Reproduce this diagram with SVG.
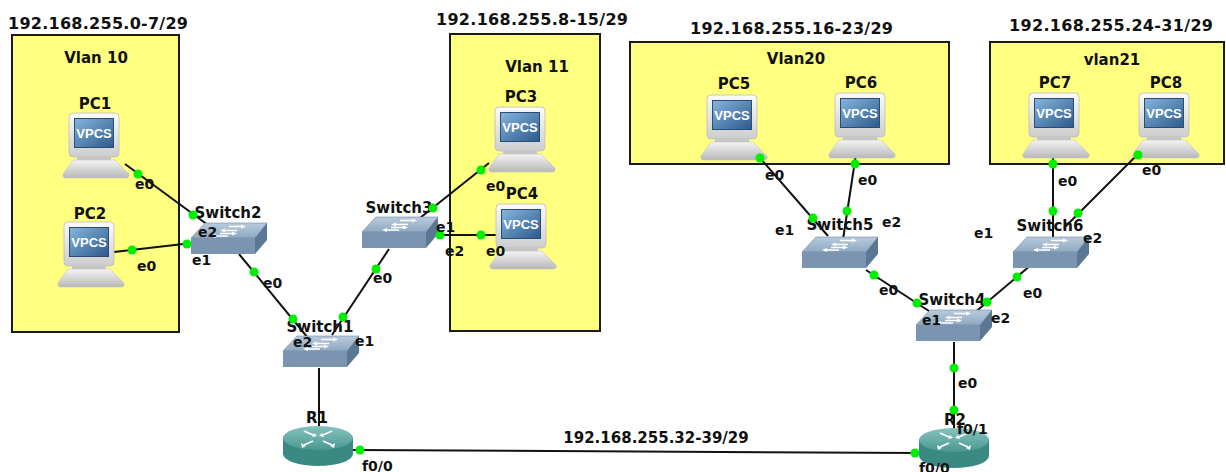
<svg xmlns="http://www.w3.org/2000/svg" width="1226" height="472" viewBox="0 0 1226 472">
<style>
.box{fill:#ffff80;stroke:#1a1a1a;stroke-width:2}
.t{font-family:"DejaVu Sans","Liberation Sans",sans-serif;font-weight:bold;font-size:15px;fill:#111}
.ip{font-size:16px}
.c{text-anchor:middle}
.p{font-size:14px}
.v{font-family:"Liberation Sans",Arial,sans-serif;font-weight:bold;font-size:13px;fill:#fff;text-anchor:middle}
.ln{stroke:#111;stroke-width:2;fill:none}
.dot{fill:#00ee00}
.wa{stroke:#fff;stroke-width:1.6;fill:none}
.wh{fill:#fff}
</style>
<defs>
<linearGradient id="gMon" x1="0" y1="0" x2="0" y2="1"><stop offset="0" stop-color="#fbfbfb"/><stop offset="1" stop-color="#cdcdcd"/></linearGradient>
<linearGradient id="gScr" x1="0" y1="0" x2="1" y2="1"><stop offset="0" stop-color="#86b5de"/><stop offset="1" stop-color="#2c5a8c"/></linearGradient>
<linearGradient id="gBase" x1="0" y1="0" x2="0" y2="1"><stop offset="0" stop-color="#f4f4f4"/><stop offset="1" stop-color="#b8b8b8"/></linearGradient>
<linearGradient id="gTop" x1="0" y1="0" x2="0" y2="1"><stop offset="0" stop-color="#b9cbdd"/><stop offset="1" stop-color="#8fa8c1"/></linearGradient>
<linearGradient id="gRt" x1="0" y1="0" x2="0" y2="1"><stop offset="0" stop-color="#86c3bd"/><stop offset="1" stop-color="#4b9891"/></linearGradient>
<g id="pc">
 <rect x="7" y="0" width="50" height="44" rx="4" fill="url(#gMon)" stroke="#bdbdbd" stroke-width="0.8"/>
 <rect x="12.5" y="5.5" width="39" height="29" fill="url(#gScr)" stroke="#2b4d75" stroke-width="1"/>
 <text x="32" y="25" class="v">VPCS</text>
 <rect x="15" y="44" width="34" height="3" fill="#c6c6c6"/>
 <path d="M11 47 H53 L67 61 Q68 65 64 65 H4 Q0 65 1 61 Z" fill="url(#gBase)" stroke="#c4c4c4" stroke-width="0.6"/>
</g>
<g id="sw">
 <polygon points="14,0 76,0 64,15 0,15" fill="url(#gTop)" stroke="#6d87a2" stroke-width="0.6"/>
 <rect x="0" y="15" width="64" height="16" fill="#7b95b0"/>
 <polygon points="64,15 76,0 76,17 64,31" fill="#5a7793"/>
 <path class="wa" d="M38 3.5 H51 M46 7.5 H33 M29 10.5 H42 M37 13 H24"/>
 <polygon class="wh" points="50,1.5 55,3.5 50,5.5"/>
 <polygon class="wh" points="34,5.5 29,7.5 34,9.5"/>
 <polygon class="wh" points="41,8.5 46,10.5 41,12.5"/>
 <polygon class="wh" points="25,11 20,13 25,15"/>
</g>
<g id="rt">
 <path d="M0 12 V28 A35 12 0 0 0 70 28 V12 Z" fill="#3b8983"/>
 <ellipse cx="35" cy="12" rx="35" ry="12" fill="url(#gRt)"/>
 <path class="wa" d="M21 5 L30 9 M49 5 L40 9 M21 19 L30 15 M49 19 L40 15"/>
 <polygon class="wh" points="31,7 34,10 29,11"/>
 <polygon class="wh" points="39,7 36,10 41,11"/>
 <polygon class="wh" points="18,17 23,20 19,22"/>
 <polygon class="wh" points="52,17 47,20 51,22"/>
</g>
</defs>

<g id="areas">
 <rect class="box" x="12" y="35" width="167" height="297"/>
 <rect class="box" x="450" y="34" width="150" height="297"/>
 <rect class="box" x="630" y="42" width="319" height="122"/>
 <rect class="box" x="990" y="42" width="234" height="122"/>
 <text class="t ip" x="8" y="29" textLength="180" lengthAdjust="spacing">192.168.255.0-7/29</text>
 <text class="t c" x="96" y="63">Vlan 10</text>
 <text class="t ip" x="436" y="25" textLength="192" lengthAdjust="spacing">192.168.255.8-15/29</text>
 <text class="t c" x="537" y="72">Vlan 11</text>
 <text class="t ip" x="690" y="34" textLength="203" lengthAdjust="spacing">192.168.255.16-23/29</text>
 <text class="t c" x="796" y="64">Vlan20</text>
 <text class="t ip" x="1009" y="31" textLength="204" lengthAdjust="spacing">192.168.255.24-31/29</text>
 <text class="t c" x="1112" y="65">vlan21</text>
</g>

<g id="connectors">
 <line class="ln" x1="125" y1="164" x2="212" y2="228"/>
 <line class="ln" x1="114" y1="252" x2="192" y2="243"/>
 <line class="ln" x1="239" y1="254" x2="308" y2="338"/>
 <line class="ln" x1="389" y1="249" x2="332" y2="335"/>
 <line class="ln" x1="420" y1="218" x2="489" y2="163"/>
 <line class="ln" x1="425" y1="235" x2="497" y2="235"/>
 <line class="ln" x1="319" y1="368" x2="319" y2="430"/>
 <line class="ln" x1="353" y1="450" x2="921" y2="453"/>
 <line class="ln" x1="954" y1="342" x2="954" y2="430"/>
 <line class="ln" x1="866" y1="270" x2="932" y2="313"/>
 <line class="ln" x1="1031" y1="265" x2="973" y2="314"/>
 <line class="ln" x1="760" y1="158" x2="828" y2="236"/>
 <line class="ln" x1="856" y1="154" x2="842" y2="246"/>
 <line class="ln" x1="1053" y1="154" x2="1053" y2="240"/>
 <line class="ln" x1="1140" y1="152" x2="1064" y2="228"/>
 <text class="t c" x="656" y="443">192.168.255.32-39/29</text>
</g>

<g id="PC1"><use href="#pc" x="62" y="113"/><text class="t c" x="95" y="109">PC1</text></g>
<g id="PC2"><use href="#pc" x="57" y="222"/><text class="t c" x="90" y="219">PC2</text></g>
<g id="PC3"><use href="#pc" x="488" y="107"/><text class="t c" x="521" y="102">PC3</text></g>
<g id="PC4"><use href="#pc" x="489" y="204"/><text class="t c" x="522" y="199">PC4</text></g>
<g id="PC5"><use href="#pc" x="700" y="95"/><text class="t c" x="734" y="89">PC5</text></g>
<g id="PC6"><use href="#pc" x="828" y="93"/><text class="t c" x="861" y="88">PC6</text></g>
<g id="PC7"><use href="#pc" x="1022" y="93"/><text class="t c" x="1055" y="88">PC7</text></g>
<g id="PC8"><use href="#pc" x="1132" y="93"/><text class="t c" x="1166" y="88">PC8</text></g>
<g id="Switch2"><use href="#sw" x="191" y="223"/><text class="t c" x="228" y="218">Switch2</text></g>
<g id="Switch3"><use href="#sw" x="362" y="217"/><text class="t c" x="399" y="213">Switch3</text></g>
<g id="Switch1"><use href="#sw" x="283" y="336"/><text class="t c" x="320" y="332">Switch1</text></g>
<g id="Switch5"><use href="#sw" x="802" y="237"/><text class="t c" x="840" y="230">Switch5</text></g>
<g id="Switch6"><use href="#sw" x="1013" y="237"/><text class="t c" x="1050" y="231">Switch6</text></g>
<g id="Switch4"><use href="#sw" x="916" y="310"/><text class="t c" x="952" y="305">Switch4</text></g>
<g id="R1"><use href="#rt" x="283" y="426"/><text class="t c" x="317" y="423">R1</text></g>
<g id="R2"><use href="#rt" x="919" y="428"/><text class="t c" x="955" y="425">R2</text></g>

<g id="ports">
 <circle class="dot" cx="138" cy="174" r="4.5"/><circle class="dot" cx="193" cy="215" r="4.5"/>
 <circle class="dot" cx="132" cy="250" r="4.5"/><circle class="dot" cx="187" cy="244" r="4.5"/>
 <circle class="dot" cx="254" cy="272" r="4.5"/><circle class="dot" cx="293" cy="319" r="4.5"/>
 <circle class="dot" cx="376" cy="269" r="4.5"/><circle class="dot" cx="343" cy="317" r="4.5"/>
 <circle class="dot" cx="433" cy="208" r="4.5"/><circle class="dot" cx="481" cy="170" r="4.5"/>
 <circle class="dot" cx="440" cy="235" r="4.5"/><circle class="dot" cx="481" cy="235" r="4.5"/>
 <circle class="dot" cx="360" cy="450" r="4.5"/><circle class="dot" cx="915" cy="453" r="4.5"/>
 <circle class="dot" cx="954" cy="368" r="4.5"/><circle class="dot" cx="954" cy="410" r="4.5"/>
 <circle class="dot" cx="874" cy="275" r="4.5"/><circle class="dot" cx="917" cy="303" r="4.5"/>
 <circle class="dot" cx="1017" cy="277" r="4.5"/><circle class="dot" cx="987" cy="302" r="4.5"/>
 <circle class="dot" cx="760" cy="158" r="4.5"/><circle class="dot" cx="813" cy="218" r="4.5"/>
 <circle class="dot" cx="855" cy="164" r="4.5"/><circle class="dot" cx="847" cy="211" r="4.5"/>
 <circle class="dot" cx="1053" cy="164" r="4.5"/><circle class="dot" cx="1053" cy="211" r="4.5"/>
 <circle class="dot" cx="1138" cy="155" r="4.5"/><circle class="dot" cx="1078" cy="213" r="4.5"/>
 <text class="t p" x="135" y="189">e0</text>
 <text class="t p" x="198" y="237">e2</text>
 <text class="t p" x="137" y="271">e0</text>
 <text class="t p" x="192" y="265">e1</text>
 <text class="t p" x="263" y="288">e0</text>
 <text class="t p" x="293" y="347">e2</text>
 <text class="t p" x="373" y="283">e0</text>
 <text class="t p" x="355" y="346">e1</text>
 <text class="t p" x="486" y="191">e0</text>
 <text class="t p" x="436" y="232">e1</text>
 <text class="t p" x="445" y="256">e2</text>
 <text class="t p" x="486" y="256">e0</text>
 <text class="t p" x="362" y="471">f0/0</text>
 <text class="t p" x="919" y="473">f0/0</text>
 <text class="t p" x="957" y="434">f0/1</text>
 <text class="t p" x="958" y="388">e0</text>
 <text class="t p" x="879" y="295">e0</text>
 <text class="t p" x="922" y="325">e1</text>
 <text class="t p" x="1023" y="298">e0</text>
 <text class="t p" x="991" y="323">e2</text>
 <text class="t p" x="765" y="180">e0</text>
 <text class="t p" x="775" y="235">e1</text>
 <text class="t p" x="858" y="185">e0</text>
 <text class="t p" x="882" y="227">e2</text>
 <text class="t p" x="1058" y="186">e0</text>
 <text class="t p" x="1142" y="175">e0</text>
 <text class="t p" x="1083" y="243">e2</text>
 <text class="t p" x="974" y="238">e1</text>
</g>
</svg>
